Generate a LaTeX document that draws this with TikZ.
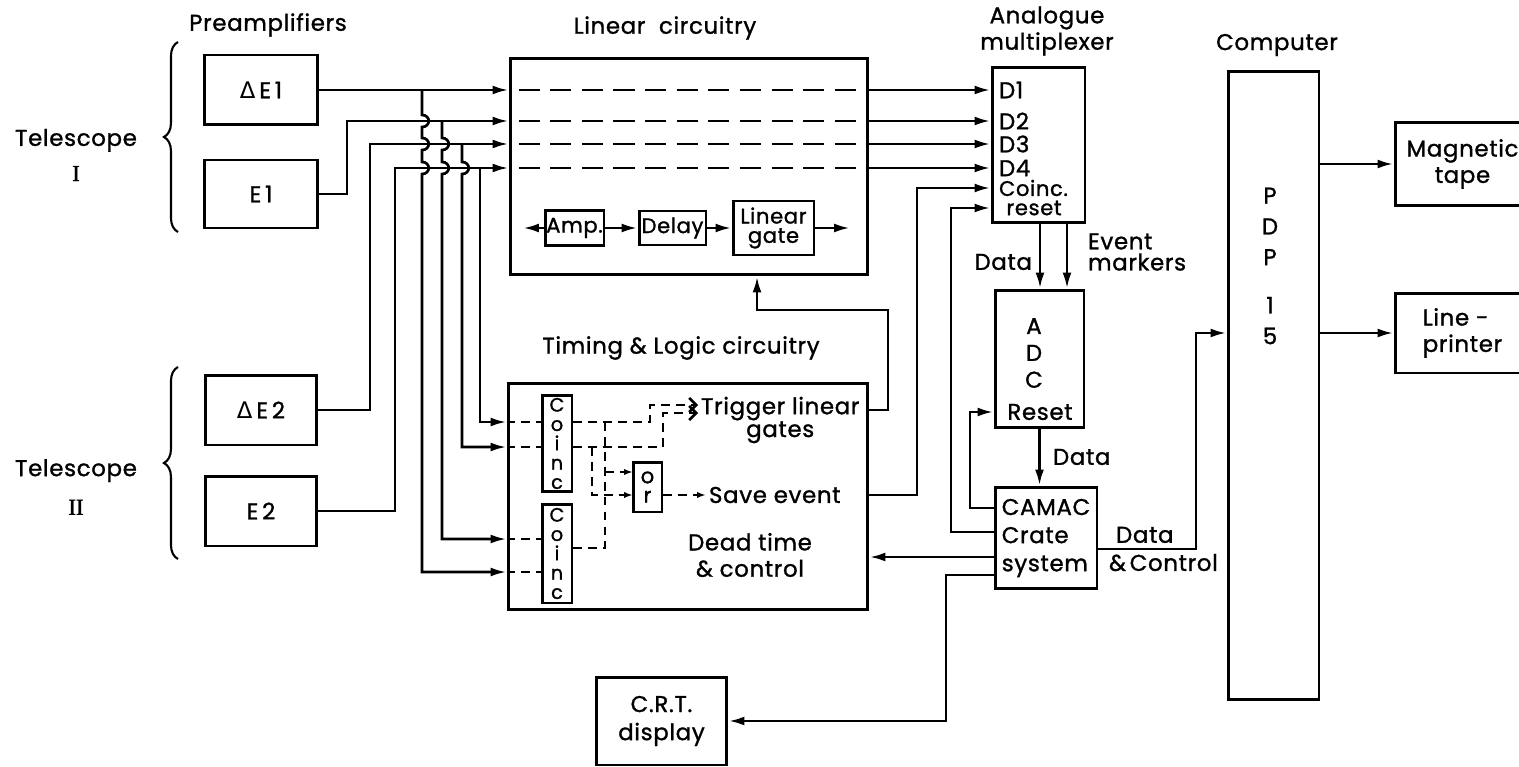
\documentclass[tikz,border=0pt]{standalone}
\usepackage{fontspec}
\setmainfont{Poppins}[LetterSpace=3, FakeBold=1.2]
\newfontfamily\romfont{Liberation Serif}[FakeBold=1.5]
\newfontfamily\symfont{DejaVu Sans}
\usetikzlibrary{arrows.meta,positioning,calc,decorations.pathreplacing}

\begin{document}
\begin{tikzpicture}[x=0.02cm, y=-0.02cm, line width=1.5pt,
    >={Latex[length=9pt,width=5pt]},
    every node/.style={font=\fontsize{13}{16}\selectfont},
    box/.style={draw, line width=1.7pt, inner sep=0pt, align=center},
    txt/.style={inner sep=1pt, align=center},
    dsh/.style={dash pattern=on 5pt off 3.5pt},
    lng/.style={dash pattern=on 12pt off 6pt},
    sml/.style={-{Latex[length=5pt,width=3.5pt]}}]
    \useasboundingbox (0,0) rectangle (1519,767);
    \clip (0,0) rectangle (1519,767);

    % titles
    \node[txt] (preT) at (268,25) {Preamplifiers};
    \node[txt] (linT) at (665,28) {Linear\ \ circuitry};
    \node[txt, font=\fontsize{13}{15}\selectfont] (muxT) at (1047,31) {Analogue\\multiplexer};
    \node[txt] (cmpT) at (1277,45) {Computer};
    \node[txt] (timT) at (681,348) {Timing \& Logic circuitry};

    % telescopes
    \node[txt, font=\fontsize{13}{20}\selectfont] (tel1) at (76,155) {Telescope\\{\romfont I}};
    \node[txt, font=\fontsize{13}{22}\selectfont] (tel2) at (76,487) {Telescope\\{\romfont II}};
    \draw[line width=1.2pt, decorate, decoration={brace, amplitude=8pt}] (178,232) -- (178,42);
    \draw[line width=1.2pt, decorate, decoration={brace, amplitude=8pt}] (178,559) -- (178,367);

    % preamplifiers
    \node[box, minimum width=2.26cm, minimum height=1.4cm] (de1) at (261,90) {{\symfont Δ}\,E\,1};
    \node[box, minimum width=2.26cm, minimum height=1.36cm] (e1) at (261,194) {E\,1};
    \node[box, minimum width=2.24cm, minimum height=1.4cm] (de2) at (261,410) {{\symfont Δ}\,E\,2};
    \node[box, minimum width=2.22cm, minimum height=1.4cm] (e2) at (261,511) {E\,2};

    % linear circuitry
    \node[box, minimum width=7.16cm, minimum height=4.34cm] (lin) at (689,166.5) {};
    \node[box, minimum width=1.18cm, minimum height=0.7cm, font=\fontsize{12}{12}\selectfont] (amp) at (574.5,228) {Amp.};
    \node[box, minimum width=1.34cm, minimum height=0.68cm, font=\fontsize{12}{12}\selectfont] (dly) at (672.5,228) {Delay};
    \node[box, minimum width=1.62cm, minimum height=1.08cm, font=\fontsize{12}{11}\selectfont] (gate) at (773.5,228) {Linear\\gate};
    \coordinate (ampin) at (523,228);
    \coordinate (gateout) at (850,228);
    \draw[->] (amp) -- (ampin);
    \draw[->] (amp) -- (dly);
    \draw[->] (dly) -- (gate);
    \draw[->] (gate) -- (gateout);

    % analogue multiplexer
    \node[box, minimum width=1.86cm, minimum height=3.12cm] (mux) at (1038.5,145) {};
    \node[txt, anchor=west] (d1) at (996,90) {D1};
    \node[txt, anchor=west] (d2) at (996,121) {D2};
    \node[txt, anchor=west] (d3) at (996,144) {D3};
    \node[txt, anchor=west] (d4) at (996,168) {D4};
    \node[txt, anchor=west, font=\fontsize{12}{12}\selectfont] (cn) at (996,188) {Coinc.};
    \node[txt, font=\fontsize{12}{12}\selectfont] (rs) at (1034,208) {reset};

    % ADC and CAMAC
    \node[box, minimum width=1.78cm, minimum height=2.76cm] (adc) at (1039.5,359) {};
    \node[txt, font=\fontsize{13}{15.3}\selectfont] (adcl) at (1034,353) {A\\D\\C};
    \node[txt] (adcr) at (1040,412) {Reset};
    \node[box, minimum width=2.04cm, minimum height=2.04cm, font=\fontsize{13}{16}\selectfont, align=left] (cam) at (1046,538) {CAMAC\\Crate\\system};
    \node[txt, anchor=east] (dat1) at (1035,262) {Data};
    \node[txt, anchor=west, align=left, font=\fontsize{13}{12}\selectfont] (evm) at (1085,252) {Event\\markers};
    \node[txt, anchor=west] (dat2) at (1050,457) {Data};
    \node[txt, anchor=west, align=left, font=\fontsize{13}{16}\selectfont] (dc) at (1106,549) {\hspace{4pt}Data\\\&\,Control};

    % computer and peripherals
    \node[box, minimum width=1.82cm, minimum height=12.58cm] (pdp) at (1273.5,385.5) {};
    \node[txt, font=\fontsize{13}{17.5}\selectfont] (pdpl) at (1270,266) {P\\D\\P\\[10pt]1\\5};
    \node[box, minimum width=2.7cm, minimum height=1.68cm, font=\fontsize{13}{15}\selectfont] (tape) at (1462.5,164) {Magnetic\\tape};
    \node[box, minimum width=2.7cm, minimum height=1.6cm, font=\fontsize{13}{15}\selectfont, align=left] (prn) at (1462.5,333) {Line -\\printer};
    \node[box, minimum width=2.62cm, minimum height=1.76cm, font=\fontsize{13}{16}\selectfont] (crt) at (661.5,721) {C.R.T.\\display};

    % timing and logic
    \node[box, minimum width=7.2cm, minimum height=4.54cm] (tim) at (688,496.5) {};
    \node[box, minimum width=0.6cm, minimum height=1.94cm, font=\fontsize{11}{11}\selectfont] (c1) at (557,443.5) {C\\o\\i\\n\\c};
    \node[box, minimum width=0.6cm, minimum height=1.98cm, font=\fontsize{11}{11}\selectfont] (c2) at (557,553.5) {C\\o\\i\\n\\c};
    \node[box, minimum width=0.58cm, minimum height=1.0cm, font=\fontsize{12}{11}\selectfont] (orb) at (647.5,487) {o\\r};
    \node[txt, anchor=west, font=\fontsize{13}{13}\selectfont] (trig) at (698,420) {Trigger linear\\gates};
    \node[txt, anchor=west] (save) at (706,495) {Save event};
    \node[txt, font=\fontsize{13}{15}\selectfont] (dead) at (750,555) {Dead time\\\& control};

    % preamplifiers to linear circuitry
    \coordinate (k2) at (347,121);
    \coordinate (k3) at (370,144);
    \coordinate (k4) at (395,168);
    \draw[->] (de1.east) -- (de1.east -| lin.west);
    \draw[->] (e1.east) -| (k2) -- (k2 -| lin.west);
    \draw[->] (de2.east) -| (k3) -- (k3 -| lin.west);
    \draw[->] (e2.east) -| (k4) -- (k4 -| lin.west);

    % taps down to the coincidences
    \coordinate (j1) at (422,90);
    \coordinate (j2) at (442,121);
    \coordinate (j3) at (462,144);
    \coordinate (j4) at (480,168);
    \coordinate (in1) at (542,422);
    \coordinate (in2) at (542,447);
    \coordinate (in3) at (542,539);
    \coordinate (in4) at (542,572);
    \draw[->] (j4) |- (in1 -| tim.west);
    \draw[->] (j3) \foreach \y in {168}{-- (462,\y-6) .. controls +(9,0) and +(9,0) .. (462,\y+6)} |- (in2 -| tim.west);
    \draw[->] (j2) \foreach \y in {144,168}{-- (442,\y-6) .. controls +(9,0) and +(9,0) .. (442,\y+6)} |- (in3 -| tim.west);
    \draw[->] (j1) \foreach \y in {121,144,168}{-- (422,\y-6) .. controls +(9,0) and +(9,0) .. (422,\y+6)} |- (in4 -| tim.west);
    \foreach \p in {in1,in2,in3,in4}
        \draw[dsh] (\p -| tim.west) -- (\p);

    % through the linear circuitry to the multiplexer
    \foreach \j/\d in {de1.east/d1,k2/d2,k3/d3,k4/d4} {
        \draw[lng] ($(\j -| lin.west)+(10,0)$) -- ($(\j -| lin.east)+(-8,0)$);
        \draw[->] (\j -| lin.east) -- (\d -| mux.west);
    }

    % logic inside the timing box
    \coordinate (m1) at (650,405);
    \coordinate (m2) at (663,413);
    \coordinate (v1) at (605,422);
    \coordinate (v2) at (592,447);
    \coordinate (c2o) at (572,548);
    \coordinate (oi1) at (633,472);
    \coordinate (oi2) at (633,495);
    \draw[dsh, -{Straight Barb[length=4pt,width=8pt]}] (in1 -| c1.east) -| (m1) -- (m1 -| trig.west);
    \draw[dsh, -{Straight Barb[length=4pt,width=8pt]}] (in2 -| c1.east) -| (m2) -- (m2 -| trig.west);
    \draw[dsh] (v1) -- (v1 |- c2o) -- (c2o);
    \draw[dsh, sml] (v1 |- oi1) -- (oi1);
    \draw[dsh, sml] (v2) |- (oi2);
    \draw[dsh, sml] (oi2 -| orb.east) -- (save.west);

    % timing outputs
    \coordinate (tr1) at (888,410);
    \coordinate (tr2) at (757,310);
    \coordinate (sv) at (917,495);
    \draw[->] (tim.east |- tr1) -- (tr1) |- (tr2) -- (tr2 |- lin.south);
    \draw[->] (tim.east |- sv) -- (sv) |- (cn -| mux.west);

    % multiplexer, ADC and CAMAC
    \coordinate (ma) at (1040,223);
    \coordinate (mb) at (1067,223);
    \draw[->] (ma) -- (ma |- adc.north);
    \draw[->] (mb) -- (mb |- adc.north);
    \draw[->] (adc.south) -- (adc.south |- cam.north);
    \coordinate (cr1) at (970,508);
    \coordinate (cr2) at (951,532);
    \coordinate (cr3) at (995,557);
    \coordinate (cr4) at (946,575);
    \draw[->] (cr1 -| cam.west) -- (cr1) |- (adcr -| adc.west);
    \draw[->] (cr2 -| cam.west) -- (cr2) |- (rs -| mux.west);
    \draw[->] (cr3) -- (cr3 -| tim.east);
    \draw[->] (cr4 -| cam.west) -- (cr4) |- (crt.east);

    % computer
    \coordinate (cp) at (1196,549);
    \draw[->] (cam.east |- cp) -- (cp) |- (pdp.west |- prn);
    \draw[->] (pdp.east |- tape) -- (tape.west);
    \draw[->] (pdp.east |- prn) -- (prn.west);
\end{tikzpicture}
\end{document}
